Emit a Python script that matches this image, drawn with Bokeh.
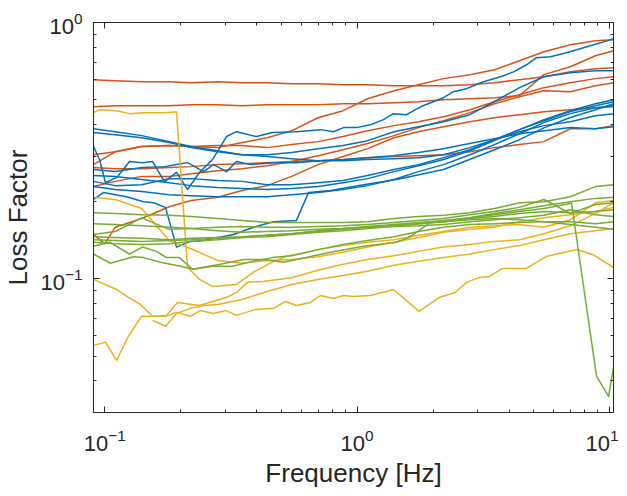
from bokeh.plotting import figure
from bokeh.models import LogAxis, FixedTicker, BasicTickFormatter
from bokeh.embed import file_html
from bokeh.resources import INLINE

# ---------------- data ----------------
FREQ = [0.09, 0.11, 0.14, 0.18, 0.22, 0.28, 0.35, 0.44, 0.55, 0.70, 0.88,
        1.1, 1.4, 1.75, 2.2, 2.8, 3.5, 4.4, 5.5, 7.0, 8.8, 10.4]

orange_1 = [0.598, 0.593, 0.587, 0.587, 0.582, 0.587, 0.582, 0.582, 0.577, 0.577, 0.572,
            0.572, 0.567, 0.567, 0.567, 0.572, 0.582, 0.598, 0.614, 0.643, 0.660, 0.666]
orange_2 = [0.469, 0.473, 0.473, 0.473, 0.478, 0.478, 0.473, 0.478, 0.478, 0.478, 0.482,
            0.482, 0.486, 0.491, 0.500, 0.504, 0.509, 0.518, 0.626, 0.672, 0.742, 0.776]
orange_3 = [0.305, 0.313, 0.328, 0.331, 0.328, 0.325, 0.340, 0.355, 0.378, 0.425, 0.453,
            0.504, 0.542, 0.572, 0.604, 0.626, 0.654, 0.709, 0.769, 0.819, 0.849, 0.856]
orange_4 = [0.279, 0.313, 0.328, 0.331, 0.328, 0.331, 0.331, 0.325, 0.334, 0.343, 0.359,
            0.378, 0.396, 0.410, 0.429, 0.457, 0.491, 0.523, 0.557, 0.582, 0.604, 0.614]
orange_5 = [0.229, 0.240, 0.251, 0.251, 0.257, 0.264, 0.269, 0.276, 0.287, 0.302, 0.319,
            0.337, 0.362, 0.389, 0.414, 0.445, 0.482, 0.513, 0.542, 0.537, 0.567, 0.582]
orange_6 = [0.272, 0.269, 0.269, 0.272, 0.274, 0.279, 0.281, 0.284, 0.287, 0.289, 0.292,
            0.297, 0.300, 0.302, 0.305, 0.313, 0.325, 0.334, 0.343, 0.385, 0.385, 0.396]
orange_7_f = [0.09, 0.10, 0.11, 0.14, 0.18, 0.22, 0.28, 0.35, 0.44, 0.55, 0.70, 0.88,
              1.1, 1.4, 1.75, 2.2, 2.8, 3.5, 4.4, 5.5, 7.0, 8.8, 10.4]
orange_7 = [0.149, 0.137, 0.159, 0.172, 0.191, 0.202, 0.208, 0.221, 0.231, 0.251, 0.279, 0.300,
            0.322, 0.355, 0.375, 0.392, 0.410, 0.425, 0.437, 0.449, 0.457, 0.465, 0.469]

blue_1_f = [0.0902, 0.0953, 0.1006, 0.1123, 0.1253, 0.1411, 0.1545, 0.1724, 0.1924, 0.2128,
            0.2373, 0.2672, 0.3037, 0.3327, 0.3995, 0.4622, 0.5751, 0.7158, 0.8063, 0.8831,
            0.9944, 1.130, 1.272, 1.394, 1.570, 1.783, 2.200, 2.411, 2.714, 3.170,
            3.702, 4.168, 4.693, 5.141, 5.842, 6.760, 7.894, 9.22, 10.38]
blue_1 = [0.328, 0.292, 0.237, 0.250, 0.287, 0.284, 0.287, 0.239, 0.260, 0.223,
          0.260, 0.292, 0.359, 0.375, 0.359, 0.372, 0.375, 0.382, 0.375, 0.389,
          0.389, 0.399, 0.418, 0.441, 0.437, 0.469, 0.509, 0.537, 0.552, 0.587,
          0.614, 0.642, 0.684, 0.729, 0.735, 0.762, 0.797, 0.833, 0.864]
blue_2 = [0.385, 0.375, 0.362, 0.343, 0.328, 0.316, 0.305, 0.305, 0.311, 0.322, 0.331,
          0.346, 0.375, 0.392, 0.410, 0.437, 0.491, 0.557, 0.614, 0.637, 0.648, 0.648]
blue_3 = [0.372, 0.365, 0.355, 0.340, 0.325, 0.313, 0.305, 0.300, 0.294, 0.289, 0.289,
          0.292, 0.294, 0.297, 0.305, 0.325, 0.349, 0.375, 0.396, 0.410, 0.433, 0.441]
blue_4 = [0.240, 0.231, 0.233, 0.246, 0.246, 0.242, 0.240, 0.233, 0.233, 0.237, 0.242,
          0.253, 0.267, 0.279, 0.297, 0.319, 0.349, 0.382, 0.414, 0.449, 0.473, 0.491]
blue_5_f = [0.0902, 0.0988, 0.1219, 0.1424, 0.156, 0.174, 0.1924, 0.2186, 0.2461, 0.3236,
            0.3886, 0.4664, 0.5751, 0.6418, 0.7847, 1.060, 1.433, 2.200, 2.790, 3.504,
            4.402, 5.531, 6.949, 8.81, 10.38]
blue_5 = [0.204, 0.217, 0.209, 0.200, 0.198, 0.190, 0.133, 0.140, 0.141, 0.149,
          0.159, 0.167, 0.169, 0.217, 0.221, 0.233, 0.244, 0.267, 0.292, 0.319,
          0.349, 0.389, 0.425, 0.457, 0.482]
blue_6_f = [0.0902, 0.11, 0.14, 0.1724, 0.1924, 0.2128, 0.2461, 0.2697, 0.3037, 0.3327,
            0.378, 0.4664, 0.5751, 0.7092, 0.891, 1.10, 1.39, 1.75, 2.2, 2.79,
            3.5, 4.4, 5.53, 7.01, 8.81, 10.38]
blue_6 = [0.267, 0.262, 0.272, 0.274, 0.279, 0.284, 0.262, 0.279, 0.262, 0.287,
          0.279, 0.284, 0.284, 0.289, 0.292, 0.297, 0.302, 0.311, 0.322, 0.337,
          0.352, 0.368, 0.378, 0.389, 0.385, 0.392]
blue_7 = [0.229, 0.223, 0.219, 0.213, 0.211, 0.209, 0.209, 0.209, 0.213, 0.217, 0.223,
          0.231, 0.244, 0.262, 0.279, 0.305, 0.334, 0.368, 0.407, 0.441, 0.465, 0.473]
blue_8 = [0.253, 0.251, 0.244, 0.237, 0.231, 0.227, 0.225, 0.223, 0.225, 0.229, 0.237,
          0.246, 0.262, 0.276, 0.292, 0.316, 0.346, 0.382, 0.418, 0.453, 0.482, 0.500]

yellow_1_f = [0.0902, 0.0953, 0.1113, 0.1253, 0.1411, 0.1724, 0.1924, 0.2128, 0.2373, 0.2672,
              0.3327, 0.3929, 0.4589, 0.5297, 0.5910, 0.70, 0.88, 1.1, 1.4, 1.75,
              2.2, 2.8, 3.5, 4.4, 5.5, 7.0, 8.8, 10.4]
yellow_1 = [0.445, 0.457, 0.453, 0.441, 0.445, 0.445, 0.449, 0.111, 0.0995, 0.0934,
            0.0951, 0.107, 0.116, 0.123, 0.125, 0.130, 0.135, 0.139, 0.142, 0.148,
            0.153, 0.159, 0.161, 0.163, 0.159, 0.170, 0.198, 0.202]
yellow_2 = [0.208, 0.204, 0.188, 0.141, 0.131, 0.118, 0.115, 0.118, 0.119, 0.122, 0.127,
            0.133, 0.139, 0.145, 0.152, 0.156, 0.159, 0.167, 0.173, 0.178, 0.183, 0.190]
yellow_3_f = [0.0902, 0.1113, 0.1241, 0.1385, 0.1545, 0.1756, 0.1941, 0.2373, 0.2672, 0.3037,
              0.3327, 0.3679, 0.4218, 0.55, 0.70, 0.88, 1.1, 1.4, 1.75, 2.2,
              2.8, 3.5, 4.4, 5.5, 7.0, 8.8, 10.4]
yellow_3 = [0.0995, 0.0909, 0.0846, 0.0794, 0.0714, 0.0720, 0.0809, 0.0787, 0.0816, 0.0846,
            0.0885, 0.0969, 0.0977, 0.101, 0.108, 0.114, 0.119, 0.123, 0.128, 0.133,
            0.136, 0.140, 0.142, 0.150, 0.161, 0.180, 0.198]
yellow_4_f = [0.0902, 0.1006, 0.1113, 0.1241, 0.1398, 0.156, 0.174, 0.1924, 0.2186, 0.2395,
              0.2697, 0.3009, 0.3327, 0.3965, 0.4664, 0.5202, 0.5751, 0.6538, 0.7158, 0.8063,
              0.8831, 0.9669, 1.130, 1.394, 1.761, 2.114, 2.446, 2.714, 3.056, 3.348,
              3.770, 4.693, 5.633, 7.406, 8.57, 10.38]
yellow_4 = [0.0550, 0.0566, 0.0481, 0.0597, 0.0714, 0.0714, 0.0714, 0.0740, 0.0714, 0.0753,
            0.0733, 0.0753, 0.0720, 0.0760, 0.0767, 0.0816, 0.0787, 0.0809, 0.0861, 0.0838,
            0.0861, 0.0853, 0.0861, 0.0909, 0.0747, 0.0846, 0.0885, 0.0969, 0.1013, 0.1022,
            0.1098, 0.1098, 0.1223, 0.1302, 0.1245, 0.1108]
yellow_5_f = [0.1545, 0.174, 0.1924, 0.2186, 0.2461, 0.28, 0.35, 0.44, 0.55, 0.70, 0.88,
              1.1, 1.4, 1.75, 2.2, 2.8, 3.5, 4.4, 5.5, 7.0, 8.8, 10.4]
yellow_5 = [0.0689, 0.0653, 0.0733, 0.0767, 0.0787, 0.0794, 0.0831, 0.0893, 0.0951, 0.0995, 0.103,
            0.107, 0.113, 0.117, 0.121, 0.125, 0.130, 0.135, 0.142, 0.150, 0.154, 0.157]

green_1 = [0.181, 0.180, 0.178, 0.177, 0.175, 0.172, 0.169, 0.166, 0.166, 0.166, 0.166,
           0.167, 0.172, 0.175, 0.177, 0.181, 0.188, 0.198, 0.200, 0.209, 0.229, 0.233]
green_2 = [0.164, 0.163, 0.161, 0.159, 0.157, 0.154, 0.152, 0.153, 0.154, 0.156, 0.157,
           0.159, 0.161, 0.164, 0.167, 0.173, 0.180, 0.186, 0.193, 0.200, 0.206, 0.208]
green_3 = [0.149, 0.153, 0.173, 0.156, 0.157, 0.159, 0.160, 0.159, 0.159, 0.160, 0.161,
           0.163, 0.166, 0.169, 0.172, 0.178, 0.183, 0.190, 0.204, 0.180, 0.195, 0.198]
green_4 = [0.146, 0.145, 0.144, 0.142, 0.144, 0.145, 0.146, 0.148, 0.150, 0.153, 0.156,
           0.159, 0.161, 0.164, 0.167, 0.172, 0.175, 0.180, 0.183, 0.181, 0.183, 0.186]
green_5 = [0.142, 0.141, 0.140, 0.141, 0.142, 0.144, 0.145, 0.146, 0.149, 0.152, 0.154,
           0.157, 0.160, 0.161, 0.163, 0.167, 0.170, 0.173, 0.177, 0.186, 0.178, 0.175]
green_6_f = [0.09, 0.11, 0.14, 0.18, 0.22, 0.28, 0.35, 0.44, 0.55, 0.70, 0.88,
             1.1, 1.4, 1.75, 2.2, 2.8, 3.5, 4.4, 5.5, 7.08, 8.89, 9.92, 10.38]
green_6 = [0.139, 0.137, 0.136, 0.137, 0.140, 0.142, 0.145, 0.148, 0.150, 0.154, 0.157,
           0.160, 0.163, 0.166, 0.169, 0.173, 0.178, 0.183, 0.188, 0.197, 0.0417, 0.0348, 0.0451]
green_7_f = [0.0902, 0.1044, 0.1253, 0.1411, 0.1603, 0.1756, 0.1977, 0.2227, 0.2672, 0.3207,
             0.385, 0.462, 0.55, 0.70, 0.88, 1.1, 1.4, 1.75, 2.2, 2.8,
             3.5, 4.4, 5.5, 7.0, 8.8, 10.4]
green_7 = [0.134, 0.139, 0.125, 0.133, 0.128, 0.121, 0.121, 0.109, 0.112, 0.112,
           0.117, 0.121, 0.123, 0.130, 0.136, 0.141, 0.146, 0.153, 0.159, 0.163,
           0.164, 0.166, 0.167, 0.167, 0.164, 0.167]
green_8_f = [0.0902, 0.1053, 0.130, 0.1424, 0.1662, 0.1996, 0.2247, 0.2461, 0.2875, 0.3546,
             0.4256, 0.5108, 0.5751, 0.7847, 1.060, 1.433, 1.627, 1.954, 2.2, 2.79,
             3.5, 4.4, 5.53, 7.01, 8.81, 10.38]
green_8 = [0.125, 0.115, 0.122, 0.121, 0.116, 0.112, 0.109, 0.111, 0.114, 0.119,
           0.119, 0.116, 0.119, 0.127, 0.134, 0.139, 0.146, 0.166, 0.167, 0.170,
           0.172, 0.170, 0.167, 0.163, 0.159, 0.156]

x_major = [0.1, 1, 10]
x_minor = [0.2, 0.3, 0.4, 0.5, 0.6, 0.7, 0.8, 0.9, 2, 3, 4, 5, 6, 7, 8, 9]
y_major = [0.1, 1]
y_minor = [0.04, 0.05, 0.06, 0.07, 0.08, 0.09, 0.2, 0.3, 0.4, 0.5, 0.6, 0.7, 0.8, 0.9]

BLUE = "#0072BD"
ORANGE = "#D95319"
YELLOW = "#EDB120"
GREEN = "#77AC30"
AX = "#262626"
FONT = "Liberation Sans"

series = [
    (FREQ, orange_1, ORANGE), (FREQ, orange_2, ORANGE), (FREQ, orange_3, ORANGE),
    (FREQ, orange_4, ORANGE), (FREQ, orange_5, ORANGE), (FREQ, orange_6, ORANGE),
    (orange_7_f, orange_7, ORANGE),
    (blue_1_f, blue_1, BLUE), (FREQ, blue_2, BLUE), (FREQ, blue_3, BLUE),
    (FREQ, blue_4, BLUE), (blue_5_f, blue_5, BLUE), (blue_6_f, blue_6, BLUE),
    (FREQ, blue_7, BLUE), (FREQ, blue_8, BLUE),
    (yellow_1_f, yellow_1, YELLOW), (FREQ, yellow_2, YELLOW), (yellow_3_f, yellow_3, YELLOW),
    (yellow_4_f, yellow_4, YELLOW), (yellow_5_f, yellow_5, YELLOW),
    (FREQ, green_1, GREEN), (FREQ, green_2, GREEN), (FREQ, green_3, GREEN),
    (FREQ, green_4, GREEN), (FREQ, green_5, GREEN), (green_6_f, green_6, GREEN),
    (green_7_f, green_7, GREEN), (green_8_f, green_8, GREEN),
]

# ---------------- figure ----------------
p = figure(x_axis_type="log", y_axis_type="log",
           x_range=(0.0902, 10.38), y_range=(0.0301, 1.0),
           frame_width=520, frame_height=390,
           min_border_left=86, min_border_right=5, min_border_top=22, min_border_bottom=60,
           toolbar_location=None, output_backend="svg")
p.background_fill_color = "white"
p.border_fill_color = "white"
p.outline_line_color = AX
p.outline_line_width = 1
p.xgrid.visible = False
p.ygrid.visible = False

for f, v, c in series:
    p.line(f, v, line_color=c, line_width=1.5, line_join="round")


def style(ax, major, minor):
    ax.ticker = FixedTicker(ticks=major, minor_ticks=minor)
    ax.axis_line_color = AX
    ax.axis_line_width = 1
    ax.major_tick_line_color = AX
    ax.minor_tick_line_color = AX
    ax.major_tick_in = 6
    ax.major_tick_out = 0
    ax.minor_tick_in = 3
    ax.minor_tick_out = 0
    ax.major_label_text_font = FONT
    ax.major_label_text_font_size = "22px"
    ax.major_label_text_color = AX
    ax.axis_label_text_font = FONT
    ax.axis_label_text_font_size = "26px"
    ax.axis_label_text_font_style = "normal"
    ax.axis_label_text_color = AX


xa = p.xaxis[0]
style(xa, x_major, x_minor)
xa.axis_label = "Frequency [Hz]"
xa.major_label_standoff = 16
xa.axis_label_standoff = 4

ya = p.yaxis[0]
style(ya, y_major, y_minor)
ya.axis_label = "Loss Factor"
ya.major_label_standoff = 11
ya.axis_label_standoff = 4

top = LogAxis(formatter=BasicTickFormatter())
style(top, x_major, x_minor)
top.major_label_text_font_size = "1px"
top.major_label_text_color = None
top.major_label_standoff = 0
p.add_layout(top, "above")

right = LogAxis(formatter=BasicTickFormatter())
style(right, y_major, y_minor)
right.major_label_text_font_size = "1px"
right.major_label_text_color = None
right.major_label_standoff = 0
p.add_layout(right, "right")

open("out.html", "w").write(file_html(p, INLINE))
